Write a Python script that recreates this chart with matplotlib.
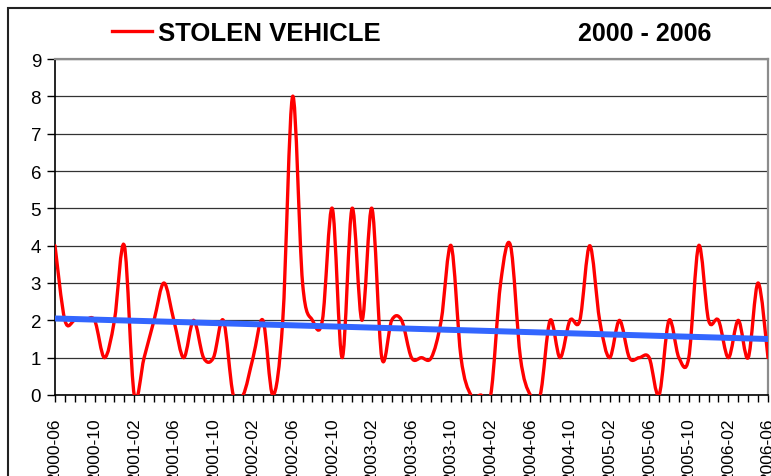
import matplotlib
matplotlib.use("Agg")
import matplotlib.pyplot as plt
import numpy as np
import pandas as pd
from matplotlib.path import Path
from matplotlib.patches import PathPatch, Rectangle

plt.rcParams['font.family'] = ['Liberation Sans', 'DejaVu Sans']

# monthly stolen vehicle counts, 2000-06 .. 2006-06
months = pd.period_range('2000-06', '2006-06', freq='M').strftime('%Y-%m').tolist()
stolen = [4, 2, 2, 2, 2, 1, 2, 4, 0, 1,
          2, 3, 2, 1, 2, 1, 1, 2, 0, 0,
          1, 2, 0, 2, 8, 3, 2, 2, 5, 1,
          5, 2, 5, 1, 2, 2, 1, 1, 1, 2,
          4, 1, 0, 0, 0, 3, 4, 1, 0, 0,
          2, 1, 2, 2, 4, 2, 1, 2, 1, 1,
          1, 0, 2, 1, 1, 4, 2, 2, 1, 2,
          1, 3, 1]
trend_ends = [2.05, 1.50]   # blue trend line, first and last month


def smooth_path(x, y):
    # Excel-like smoothed line: cubic bezier through every point
    x = np.asarray(x, float)
    y = np.asarray(y, float)
    px = np.concatenate([[x[0]], x, [x[-1]]])
    py = np.concatenate([[y[0]], y, [y[-1]]])
    verts = [(x[0], y[0])]
    codes = [Path.MOVETO]
    for i in range(1, len(x)):
        c1 = (px[i] + (px[i + 1] - px[i - 1]) / 6, py[i] + (py[i + 1] - py[i - 1]) / 6)
        c2 = (px[i + 1] - (px[i + 2] - px[i]) / 6, py[i + 1] - (py[i + 2] - py[i]) / 6)
        verts += [c1, c2, (px[i + 1], py[i + 1])]
        codes += [Path.CURVE4] * 3
    return Path(verts, codes)


W, H = 771, 477
fig = plt.figure(figsize=(W / 100, H / 100), dpi=100)
ax = fig.add_axes([55 / W, 1 - 396 / H, (768 - 55) / W, (396 - 60) / H])

x = np.arange(len(months))
ax.add_patch(PathPatch(smooth_path(x, stolen), facecolor='none', edgecolor='#ff0000',
                       lw=2.4, capstyle='round', joinstyle='round', zorder=3))
ax.plot([x[0], x[-1]], trend_ends, color='#3366ff', lw=4.3, solid_capstyle='butt', zorder=4)
# dummy line for the legend
ax.plot([], [], color='#ff0000', lw=2.4, label='STOLEN VEHICLE')

ax.set_xlim(0, len(months) - 1)
ax.set_ylim(0, 9)
ax.set_yticks(range(10))
ax.yaxis.grid(True, color='#333333', lw=0.9)
ax.set_axisbelow(True)

ax.set_xticks(x, minor=True)
ax.set_xticks(x[::4])
ax.set_xticklabels(months[::4], rotation=90, fontsize=12.5)
ax.tick_params(axis='y', labelsize=13.5, length=6, width=1, pad=4)
ax.tick_params(axis='x', which='both', length=5, width=1, direction='out', pad=11)

for s in ['left', 'bottom']:
    ax.spines[s].set_color('black')
    ax.spines[s].set_linewidth(1.2)
for s in ['top', 'right']:
    ax.spines[s].set_color('#8c8c8c')
    ax.spines[s].set_linewidth(1.6)

fig.legend(loc='center left', bbox_to_anchor=(112 / W, 1 - 34 / H), frameon=False,
           handlelength=1.55, handletextpad=0.25, borderaxespad=0, borderpad=0,
           prop={'size': 18.5, 'weight': 'bold'})
fig.text(645 / W, 1 - 34 / H, '2000 - 2006', fontsize=18, fontweight='bold',
         ha='center', va='center')

fig.add_artist(Rectangle((8 / W, -0.2), 1.2, 1.2 - 9 / H, transform=fig.transFigure,
                         fill=False, edgecolor='#222222', lw=1.5))

fig.savefig('out.png', dpi=100)
